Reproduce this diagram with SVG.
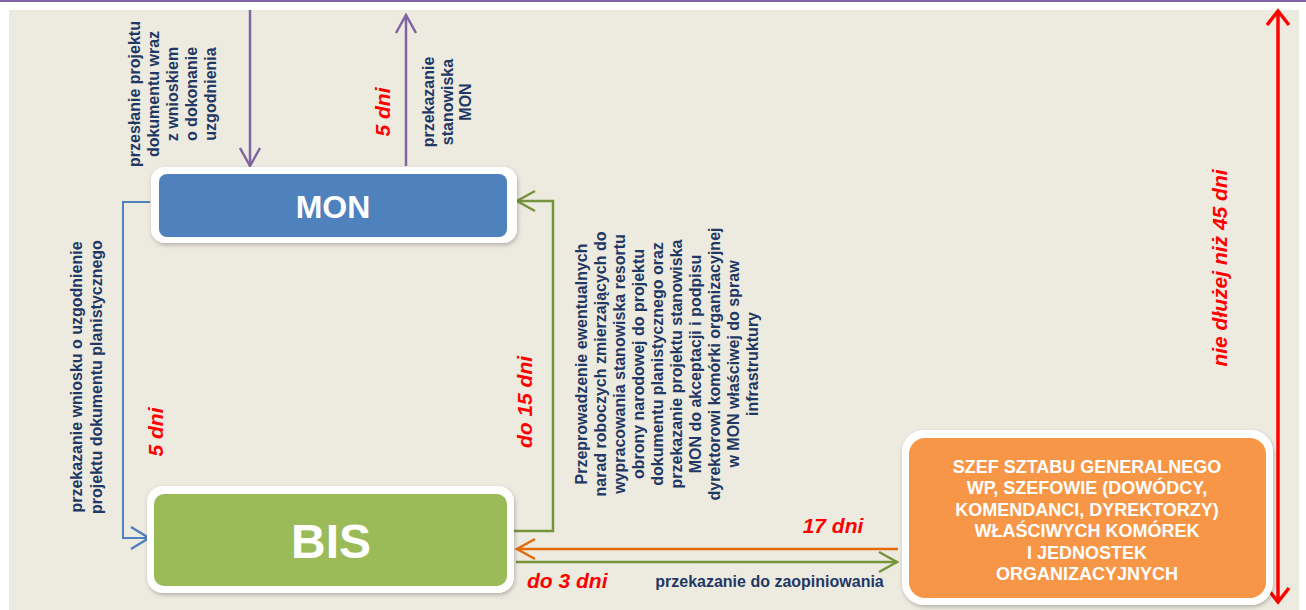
<svg xmlns="http://www.w3.org/2000/svg" width="1306" height="610" viewBox="0 0 1306 610">
<style>
.n{font-family:"Liberation Sans",Arial,sans-serif;font-weight:bold;font-size:16px;fill:#1F3864}
.r{font-family:"Liberation Sans",Arial,sans-serif;font-weight:bold;font-style:italic;font-size:21px;fill:#FF0000}
.w{font-family:"Liberation Sans",Arial,sans-serif;font-weight:bold;fill:#FFFFFF}
.c{fill:none;stroke-linejoin:miter}
</style>
<defs>
<filter id="sh" x="-10%" y="-10%" width="120%" height="130%">
<feDropShadow dx="1" dy="2" stdDeviation="2" flood-color="#000" flood-opacity="0.25"/>
</filter>
<marker id="mP" markerUnits="userSpaceOnUse" markerWidth="22" markerHeight="24" viewBox="-20 -12 22 24" refX="0" refY="0" orient="auto" overflow="visible"><path d="M-18,-10 L0,0 L-18,10" fill="none" stroke="#8064A2" stroke-width="2.5"/></marker>
<marker id="mB" markerUnits="userSpaceOnUse" markerWidth="22" markerHeight="26" viewBox="-20 -13 22 26" refX="0" refY="0" orient="auto" overflow="visible"><path d="M-18,-11 L0,0 L-18,11" fill="none" stroke="#4F81BD" stroke-width="2.5"/></marker>
<marker id="mG" markerUnits="userSpaceOnUse" markerWidth="22" markerHeight="24" viewBox="-20 -12 22 24" refX="0" refY="0" orient="auto" overflow="visible"><path d="M-18,-10 L0,0 L-18,10" fill="none" stroke="#77933C" stroke-width="2.5"/></marker>
<marker id="mO" markerUnits="userSpaceOnUse" markerWidth="22" markerHeight="24" viewBox="-20 -12 22 24" refX="0" refY="0" orient="auto" overflow="visible"><path d="M-18,-10 L0,0 L-18,10" fill="none" stroke="#E36C09" stroke-width="2.5"/></marker>
<marker id="mR" markerUnits="userSpaceOnUse" markerWidth="20" markerHeight="28" viewBox="-18 -14 20 28" refX="0" refY="0" orient="auto-start-reverse" overflow="visible"><path d="M-14,-11 L0,0 L-14,11" fill="none" stroke="#FF0000" stroke-width="3.5"/></marker>
</defs>
<rect x="0" y="0" width="1306" height="610" fill="#FFFFFF"/>
<rect x="9" y="10" width="1290" height="600" fill="#EDEBE0"/>
<rect x="0" y="0" width="1306" height="2" fill="#8064A2"/>

<g id="connectors">
<line class="c" x1="250" y1="10" x2="250" y2="166" stroke="#8064A2" stroke-width="2.5" marker-end="url(#mP)"/>
<line class="c" x1="406" y1="166" x2="406" y2="15" stroke="#8064A2" stroke-width="2.5" marker-end="url(#mP)"/>
<polyline class="c" points="150,202 123,202 123,538 149,538" stroke="#4F81BD" stroke-width="2" marker-end="url(#mB)"/>
<polyline class="c" points="514,531 553,531 553,201 517,201" stroke="#77933C" stroke-width="2.5" marker-end="url(#mG)"/>
<line class="c" x1="898" y1="549" x2="517" y2="549" stroke="#E36C09" stroke-width="2.5" marker-end="url(#mO)"/>
<line class="c" x1="516" y1="562" x2="897" y2="562" stroke="#77933C" stroke-width="2.5" marker-end="url(#mG)"/>
<line class="c" x1="1278" y1="602" x2="1278" y2="11" stroke="#FF0000" stroke-width="3.5" marker-start="url(#mR)" marker-end="url(#mR)"/>
</g>

<g id="labels">
<text class="n" text-anchor="middle" transform="translate(139.5,94) rotate(-90)"><tspan x="0" y="0">przesłanie projektu</tspan><tspan x="0" dy="19">dokumentu wraz</tspan><tspan x="0" dy="19">z wnioskiem</tspan><tspan x="0" dy="19">o dokonanie</tspan><tspan x="0" dy="19">uzgodnienia</tspan></text>
<text class="n" text-anchor="middle" transform="translate(434,102) rotate(-90)"><tspan x="0" y="0">przekazanie</tspan><tspan x="0" dy="18.5">stanowiska</tspan><tspan x="0" dy="18.5">MON</tspan></text>
<text class="r" text-anchor="middle" transform="translate(390,112) rotate(-90)">5 dni</text>
<text class="n" text-anchor="middle" transform="translate(82,377) rotate(-90)"><tspan x="0" y="0">przekazanie wniosku o uzgodnienie</tspan><tspan x="0" dy="19.5">projektu dokumentu planistycznego</tspan></text>
<text class="r" text-anchor="middle" transform="translate(163,432) rotate(-90)">5 dni</text>
<text class="r" text-anchor="middle" transform="translate(532,402) rotate(-90)">do 15 dni</text>
<text class="n" text-anchor="middle" transform="translate(586.5,364) rotate(-90)"><tspan x="0" y="0">Przeprowadzenie ewentualnych</tspan><tspan x="0" dy="19">narad roboczych zmierzających do</tspan><tspan x="0" dy="19">wypracowania stanowiska resortu</tspan><tspan x="0" dy="19">obrony narodowej do projektu</tspan><tspan x="0" dy="19">dokumentu planistycznego oraz</tspan><tspan x="0" dy="19">przekazanie projektu stanowiska</tspan><tspan x="0" dy="19">MON do akceptacji i podpisu</tspan><tspan x="0" dy="19">dyrektorowi komórki organizacyjnej</tspan><tspan x="0" dy="19">w MON właściwej do spraw</tspan><tspan x="0" dy="19">infrastruktury</tspan></text>
<text class="r" text-anchor="middle" transform="translate(1227,268) rotate(-90)">nie dłużej niż 45 dni</text>
<text class="r" x="833" y="533" text-anchor="middle">17 dni</text>
<text class="r" x="527" y="588">do 3 dni</text>
<text class="n" x="769.5" y="587" text-anchor="middle">przekazanie do zaopiniowania</text>
</g>

<g id="mon">
<rect x="151" y="167" width="366" height="76" rx="14" fill="#FFFFFF" filter="url(#sh)"/>
<rect x="159" y="174" width="348" height="63" rx="8" fill="#4F81BD"/>
<text class="w" x="333" y="218" font-size="32" text-anchor="middle">MON</text>
</g>

<g id="bis">
<rect x="147" y="486" width="367" height="107" rx="16" fill="#FFFFFF" filter="url(#sh)"/>
<rect x="154" y="494" width="353" height="92" rx="10" fill="#9BBB59"/>
<text class="w" x="331" y="558" font-size="48" text-anchor="middle">BIS</text>
</g>

<g id="szef">
<rect x="902" y="430" width="371" height="175" rx="22" fill="#FFFFFF" filter="url(#sh)"/>
<rect x="909" y="438" width="357" height="160" rx="16" fill="#F79646"/>
<text class="w" font-size="18" text-anchor="middle"><tspan x="1087" y="473">SZEF SZTABU GENERALNEGO</tspan><tspan x="1087" dy="21.4">WP, SZEFOWIE (DOWÓDCY,</tspan><tspan x="1087" dy="21.4">KOMENDANCI, DYREKTORZY)</tspan><tspan x="1087" dy="21.4">WŁAŚCIWYCH KOMÓREK</tspan><tspan x="1087" dy="21.4">I JEDNOSTEK</tspan><tspan x="1087" dy="21.4">ORGANIZACYJNYCH</tspan></text>
</g>
</svg>
